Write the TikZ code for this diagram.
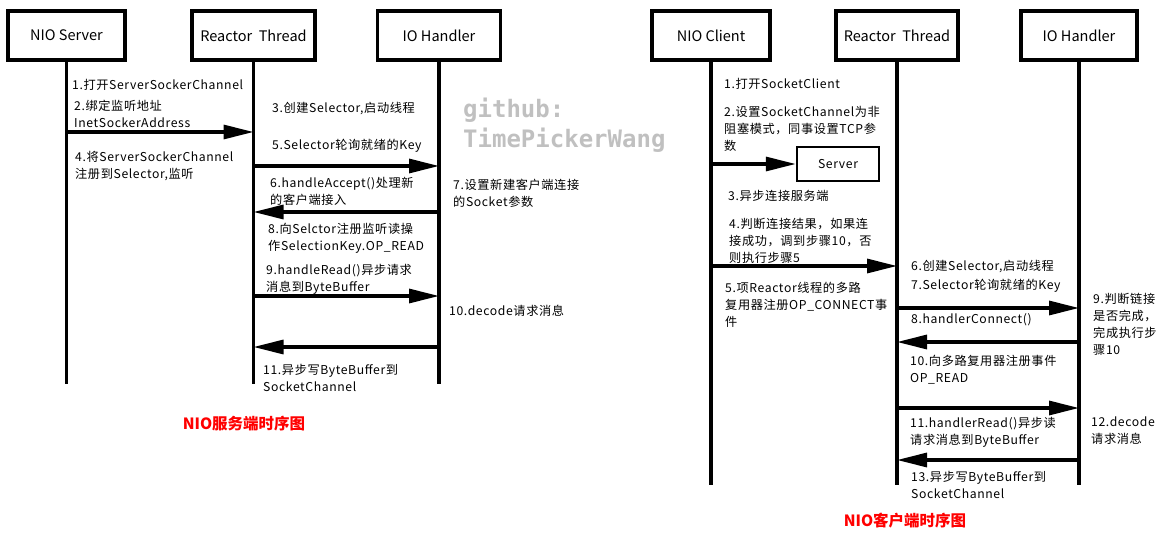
\documentclass[tikz,border=0pt]{standalone}
\usepackage{fontspec}
\setmainfont{Noto Sans CJK SC}
\newfontfamily\notefont[LetterSpace=5]{Noto Sans CJK SC}
\newfontfamily\wmfont{DejaVu Sans Mono}
\usepackage{tikz}
\usetikzlibrary{arrows.meta,positioning}

\tikzset{
  actor/.style={draw,line width=3.2pt,minimum width=117pt,minimum height=49pt,inner sep=0pt,font=\fontsize{14.5}{16}\selectfont},
  life/.style={line width=3.2pt},
  msg/.style={line width=3.2pt,-{Triangle[length=30pt,width=14pt]}},
  note/.style={anchor=west,align=left,inner sep=0pt,font=\notefont\fontsize{12.2}{17}\selectfont},
  capt/.style={text=red,inner sep=0pt,font=\fontsize{15.5}{17}\selectfont\bfseries},
  wm/.style={anchor=west,align=left,inner sep=0pt,text={rgb,255:red,192;green,192;blue,192},font=\fontsize{24}{30}\wmfont\bfseries}
}

\begin{document}
\begin{tikzpicture}[x=1pt,y=-1pt]
  \useasboundingbox (0,0) rectangle (1174,540);

  % server side
  \node[actor] (srv) at (66.5,35.5) {NIO Server};
  \node[actor,minimum width=123pt] (srt) at (253.5,35.5) {Reactor\ \ Thread};
  \node[actor,minimum width=123pt] (sio) at (439,35.5) {IO Handler};
  \draw[life] (srv.south) -- (srv.south |- 0,384);
  \draw[life] (srt.south) -- (srt.south |- 0,384);
  \draw[life] (sio.south) -- (sio.south |- 0,384);

  \draw[msg] (srv |- 0,132) -- (srt |- 0,132);
  \draw[msg] (srt |- 0,166) -- (sio |- 0,166);
  \draw[msg] (sio |- 0,212) -- (srt |- 0,212);
  \draw[msg] (srt |- 0,296) -- (sio |- 0,296);
  \draw[msg] (sio |- 0,347) -- (srt |- 0,347);

  \node[note] (s1) at (72,85) {1.打开ServerSockerChannel};
  \node[note] (s2) at (74,113.5) {2.绑定监听地址\\InetSockerAddress};
  \node[note] (s3) at (272,109) {3.创建Selector,启动线程};
  \node[note] (s4) at (75,166.5) {4.将ServerSockerChannel\\注册到Selector,监听};
  \node[note] (s5) at (272,146) {5.Selector轮询就绪的Key};
  \node[note] (s6) at (270,191.5) {6.handleAccept()处理新\\的客户端接入};
  \node[note] (s7) at (453,193) {7.设置新建客户端连接\\的Socket参数};
  \node[note] (s8) at (268,238) {8.向Selctor注册监听读操\\作SelectionKey.OP\_READ};
  \node[note] (s9) at (266,279.5) {9.handleRead()异步请求\\消息到ByteBuffer};
  \node[note] (s10) at (449,311) {10.decode请求消息};
  \node[note] (s11) at (263,377.5) {11.异步写ByteBuffer到\\SocketChannel};
  \node[capt] (stitle) at (244,424) {NIO服务端时序图};

  \node[wm] (github) at (463,125) {github:\\TimePickerWang};

  % client side
  \node[actor,minimum width=118pt] (cli) at (711,35.5) {NIO Client};
  \node[actor,minimum width=122pt] (crt) at (897,35.5) {Reactor\ \ Thread};
  \node[actor,minimum width=116pt] (cio) at (1079,35.5) {IO Handler};
  \draw[life] (cli.south) -- (cli.south |- 0,485);
  \draw[life] (crt.south) -- (crt.south |- 0,485);
  \draw[life] (cio.south) -- (cio.south |- 0,485);

  \node[draw,line width=2.5pt,minimum width=82pt,minimum height=34pt,inner sep=0pt,font=\notefont\fontsize{12.2}{14}\selectfont] (server) at (838,164) {Server};
  \draw[msg] (cli |- server.west) -- (server.west);
  \draw[msg] (cli |- 0,266) -- (crt |- 0,266);
  \draw[msg] (crt |- 0,308) -- (cio |- 0,308);
  \draw[msg] (cio |- 0,342) -- (crt |- 0,342);
  \draw[msg] (crt |- 0,408) -- (cio |- 0,408);
  \draw[msg] (cio |- 0,460) -- (crt |- 0,460);

  \node[note] (c1) at (724,84) {1.打开SocketClient};
  \node[note] (c2) at (724,129) {2.设置SocketChannel为非\\阻塞模式，同事设置TCP参\\数};
  \node[note] (c3) at (728,196) {3.异步连接服务端};
  \node[note] (c4) at (729,240.5) {4.判断连接结果，如果连\\接成功，调到步骤10，否\\则执行步骤5};
  \node[note] (c5) at (725,305) {5.项Reactor线程的多路\\复用器注册OP\_CONNECT事\\件};
  \node[note] (c6) at (911,267) {6.创建Selector,启动线程};
  \node[note] (c7) at (911,286) {7.Selector轮询就绪的Key};
  \node[note] (c8) at (911,320) {8.handlerConnect()};
  \node[note] (c9) at (1093,324) {9.判断链接\\是否完成，\\完成执行步\\骤10};
  \node[note] (c10) at (910,370) {10.向多路复用器注册事件\\OP\_READ};
  \node[note] (c11) at (910,432) {11.handlerRead()异步读\\请求消息到ByteBuffer};
  \node[note] (c12) at (1091,430.5) {12.decode\\请求消息};
  \node[note] (c13) at (911,485) {13.异步写ByteBuffer到\\SocketChannel};
  \node[capt] (ctitle) at (905,521) {NIO客户端时序图};
\end{tikzpicture}
\end{document}
